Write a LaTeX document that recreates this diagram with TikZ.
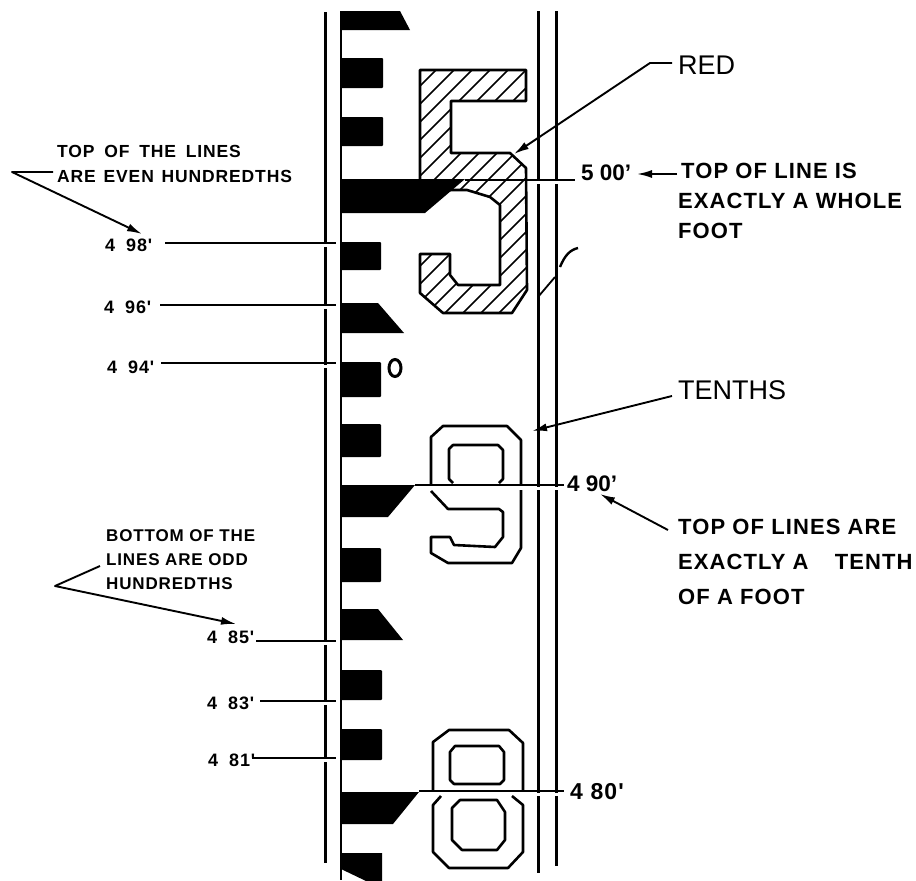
\documentclass[tikz,border=0pt]{standalone}
\usepackage{fontspec}
\setmainfont{Liberation Sans}
\newfontfamily\notefont[LetterSpace=5]{Liberation Sans}
\usetikzlibrary{arrows.meta}
\tikzset{
  railline/.style={line width=2.8pt},
  digitline/.style={line width=2.6pt,line join=round},
  leader/.style={line width=2pt},
  leaderarrow/.style={line width=1.9pt,line join=round,-{Latex[length=15pt,width=8pt]}},
  numlabel/.style={anchor=west,inner sep=0pt,font=\fontsize{22.5}{24}\selectfont\bfseries},
  bignote/.style={anchor=west,inner sep=0pt,font=\fontsize{27}{30}\selectfont},
  sidenote/.style={anchor=north west,inner sep=0pt,align=left},
}

\begin{document}
\begin{tikzpicture}[x=1pt,y=-1pt]
\useasboundingbox (0,0) rectangle (916,881);

% ===== RAILS =====
\draw[railline] (325.5,12) -- (325.5,863);
\draw[railline] (538.5,11) -- (538.5,873);
\draw[railline] (556.5,11) -- (556.5,866);
\draw[line width=2.6pt] (341,11) -- (341,880);
% small breaks under the leader lines
\foreach \y in {245,307,366,643,703,760}{
  \draw[white,line width=3pt] (320,\y) -- (331,\y);
}
\foreach \y in {182,488,794}{
  \draw[white,line width=3pt] (533,\y) -- (562,\y);
}

% ===== NUMERAL 5 (hatched) =====
\begin{scope}
  \clip (420,70) -- (526,70) -- (526,101) -- (451,101) -- (451,153) -- (510,153) -- (526,168)
    -- (527,290) -- (512,313) -- (443,313) -- (420,293) -- (420,254) -- (450,254) -- (450,275)
    -- (458,285) -- (500,285) -- (500,205) -- (490,197) -- (467,190) -- (420,190) -- cycle;
  \foreach \k in {150,168,...,530}{
    \draw[line width=1.6pt] (\k,320) -- (\k+250,70);
  }
\end{scope}
\draw[digitline] (420,70) -- (526,70) -- (526,101) -- (451,101) -- (451,153) -- (510,153) -- (526,168)
    -- (527,290) -- (512,313) -- (443,313) -- (420,293) -- (420,254) -- (450,254) -- (450,275)
    -- (458,285) -- (500,285) -- (500,205) -- (490,197) -- (467,190) -- (420,190) -- cycle;

% ===== NUMERAL 9 =====
\draw[digitline] (431,484) -- (431,437) -- (443,426) -- (507,426) -- (521,440) -- (521,484);
\draw[digitline] (453,483) -- (449,479) -- (449,449) -- (453,445) -- (498,445) -- (503,450) -- (503,479) -- (499,483);
\draw[digitline] (521,490) -- (521,548) -- (512,563) -- (448,563) -- (431,553) -- (431,537) -- (450,537)
    -- (454,545) -- (495,547) -- (503,537) -- (503,512) -- (499,509) -- (448,509) -- (431,491);

% ===== NUMERAL 8 =====
\draw[digitline] (433,790) -- (433,742) -- (449,730) -- (509,730) -- (523,743) -- (523,790);
\draw[digitline] (454,784) -- (450,780) -- (450,752) -- (455,746) -- (499,746) -- (504,752) -- (504,780) -- (500,784) -- cycle;
\draw[digitline] (441,796) -- (433,805) -- (433,852) -- (449,868) -- (508,868) -- (523,852) -- (523,805) -- (512,796);
\draw[digitline] (460,800) -- (497,800) -- (505,812) -- (505,840) -- (497,850) -- (462,850) -- (452,840) -- (452,808) -- cycle;

% ===== SMALL MARK =====
\draw[line width=3pt] (395,368) ellipse (6 and 8.5);

% ===== BLACK MARKS =====
\foreach \ya/\yb/\xb in {58/88/383,117/146/383,242/270/381,362/397/381,424/457/381,548/582/381,670/700/382,729/760/382}{
  \fill[rounded corners=1pt] (341,\ya) rectangle (\xb,\yb);
}
\foreach \ya/\yb/\xt/\xe in {11/30/400/410,303/333/378/404,609/640/378/403}{
  \fill (341,\ya) -- (\xt,\ya) -- (\xe,\yb) -- (341,\yb) -- cycle;
}
\fill (341,179) -- (465,179) -- (425,213) -- (341,213) -- cycle;
\fill (341,485) -- (415,485) -- (388,517) -- (341,517) -- cycle;
\fill (341,792) -- (419,792) -- (393,824) -- (341,824) -- cycle;
\fill (341,853) -- (382,853) -- (382,881) -- (366,881) -- (341,869) -- cycle;

% ===== WHOLE FOOT =====
\node[numlabel] (n500) at (581,173) {5 00'};
\coordinate (foot5) at (465,179.5);
\coordinate (rail5) at (575,179.5);
\draw[leader] (foot5) -- (rail5);
\node[sidenote,font=\fontsize{22}{30}\selectfont\notefont\bfseries] (notefoot) at (678,163) {\hspace*{3pt}TOP OF LINE IS\\EXACTLY A WHOLE\\FOOT};
\coordinate (arrfoot) at (677,174);
\draw[leaderarrow] (arrfoot) -- (637,174);

% ===== RED =====
\node[bignote] (red) at (678,65) {RED};
\coordinate (redbend) at (650,63);
\coordinate (redtip) at (514,154);
\draw[leaderarrow] (red.west) ++(-6,-2) -- (redbend) -- (redtip);

% ===== STRAY PEN MARK =====
\draw[line width=1.8pt] (538,297) -- (555,277);
\draw[line width=2.4pt] (560,267) .. controls (565,255) and (570,250) .. (578,248);

% ===== TENTHS =====
\node[bignote] (tenths) at (678,390) {TENTHS};
\coordinate (tenthsend) at (672,396);
\coordinate (tenthstip) at (532,431);
\draw[leaderarrow] (tenthsend) -- (tenthstip);
\node[numlabel] (n490) at (567,484) {4 90'};
\coordinate (foot9) at (415,485);
\coordinate (rail9) at (564,485);
\draw[leader] (foot9) -- (rail9);
\node[sidenote,font=\fontsize{22}{35}\selectfont\notefont\bfseries] (notetenth) at (678,519) {TOP OF LINES ARE\\EXACTLY A\hspace{19pt} TENTH\\OF A FOOT};
\coordinate (arrtenth) at (668,530);
\draw[leaderarrow] (arrtenth) -- (600,494);

% ===== 4.80 =====
\node[numlabel,font=\fontsize{23}{24}\selectfont\notefont\bfseries] (n480) at (570,792) {4 80'};
\coordinate (foot8) at (419,791);
\coordinate (rail8) at (564,791);
\draw[leader] (foot8) -- (rail8);

% ===== HUNDREDTHS =====
\foreach \v/\lx/\ty/\ly/\ls in {98/105/245/243/165,96/104/307/305/160,94/107/367/363/161,85/207/637/641/256,83/207/703/701/260,81/208/760/758/252}{
  \node[numlabel,font=\fontsize{18}{20}\selectfont\notefont\bfseries] (n\v) at (\lx,\ty) {4\hspace{5pt} \v'};
  \coordinate (tick\v) at (336,\ly);
  \coordinate (start\v) at (\ls,\ly);
  \draw[leader] (start\v) -- (tick\v);
}

% ===== EVEN / ODD NOTES =====
\node[sidenote,font=\fontsize{17.5}{25}\selectfont\notefont\bfseries] (noteeven) at (57,145) {TOP\hspace{4pt} OF\hspace{4pt} THE\hspace{4pt} LINES\\ARE\hspace{2pt} EVEN\hspace{2pt} HUNDREDTHS};
\coordinate (evenstart) at (53,172);
\coordinate (evenbend) at (12,172);
\coordinate (eventip) at (142,234);
\draw[leaderarrow] (evenstart) -- (evenbend) -- (eventip);
\node[sidenote,font=\fontsize{17}{24}\selectfont\notefont\bfseries] (noteodd) at (106,529) {BOTTOM OF THE\\LINES ARE ODD\\HUNDREDTHS};
\coordinate (oddstart) at (100,566);
\coordinate (oddbend) at (55,586);
\coordinate (oddtip) at (236,624);
\draw[leaderarrow] (oddstart) -- (oddbend) -- (oddtip);

\end{tikzpicture}
\end{document}
